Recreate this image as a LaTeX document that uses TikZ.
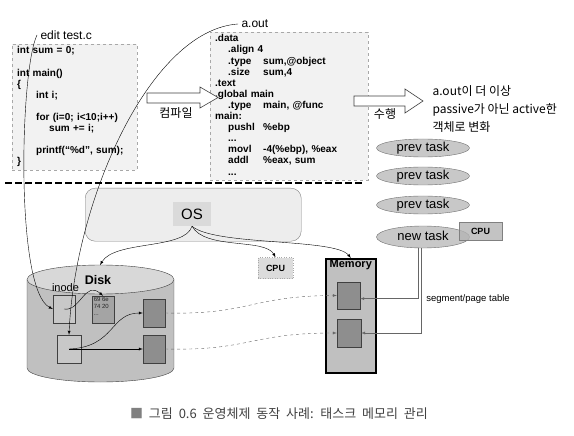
\documentclass[tikz,border=0pt]{standalone}
\usepackage{fontspec}
\setmainfont{Liberation Sans}
\newfontfamily\kr{Noto Sans CJK KR}
\usepackage{xcolor}
\usetikzlibrary{shapes,arrows,positioning,calc}

\definecolor{boxfill}{HTML}{F2F2F2}
\definecolor{boxline}{HTML}{A8A8A8}
\definecolor{osfill}{HTML}{EDEDED}
\definecolor{osnodefill}{HTML}{DADADA}
\definecolor{taskfill}{HTML}{C8C8C8}
\definecolor{taskline}{HTML}{707070}
\definecolor{cpufill}{HTML}{B4B4B4}
\definecolor{cpumid}{HTML}{DCDCDC}
\definecolor{diskbody}{HTML}{C0C0C0}
\definecolor{disktopc}{HTML}{D8D8D8}
\definecolor{inodefill}{HTML}{C8C8C8}
\definecolor{datafill}{HTML}{A4A4A4}
\definecolor{blockfill}{HTML}{8E8E8E}
\definecolor{memfill}{HTML}{C0C0C0}
\definecolor{darkline}{HTML}{404040}
\definecolor{captext}{HTML}{404040}

\newcommand{\asmln}[2]{\hspace*{13pt}\makebox[35pt][l]{#1}#2}

\begin{document}
\begin{tikzpicture}[x=1pt, y=-1pt, >=latex,
  codebox/.style={draw=boxline, dashed, fill=boxfill, anchor=north west, inner xsep=5pt, inner ysep=0pt, align=left, font=\fontsize{10}{11.1}\selectfont\bfseries},
  lbl/.style={font=\fontsize{12}{12}\selectfont},
  krlbl/.style={font=\kr\fontsize{12}{12}\selectfont},
  blockarr/.style={draw=darkline, fill=white, line width=0.6pt},
  task/.style={ellipse, draw=taskline, fill=taskfill, minimum width=93pt, minimum height=18pt, inner sep=0pt, text height=9pt, text depth=2.5pt, font=\fontsize{13}{13}\selectfont},
  cpubox/.style={draw=gray, fill=cpufill, inner sep=0pt, font=\fontsize{9}{9}\selectfont\bfseries},
  smallbox/.style={draw=darkline, minimum width=22pt, minimum height=28pt, inner sep=0pt},
  memline/.style={draw=darkline!80, ->}]
\useasboundingbox (0,0) rectangle (574,436);

% Source code
\node[codebox, text width=115pt, minimum height=126pt] (src) at (12,44) {%
  \begin{tabular}{@{}l@{}}
  int sum = 0;\\
  \\
  int main()\\
  \{\\
  \hspace*{19pt}int i;\\
  \\
  \hspace*{19pt}for (i=0; i<10;i++)\\
  \hspace*{32pt}sum += i;\\
  \\
  \hspace*{19pt}printf(“\%d”, sum);\\
  \}
  \end{tabular}};
\node[lbl, anchor=west] (editlbl) at (37,35) {edit test.c};

% Assembly
\node[codebox, text width=148pt, minimum height=148pt] (asm) at (210,32) {%
  \begin{tabular}{@{}l@{}}
  .data\\
  \hspace*{13pt}.align 4\\
  \asmln{.type}{sum,@object}\\
  \asmln{.size}{sum,4}\\
  .text\\
  .global main\\
  \asmln{.type}{main, @func}\\
  main:\\
  \asmln{pushl}{\%ebp}\\
  \hspace*{13pt}...\\
  \asmln{movl}{-4(\%ebp), \%eax}\\
  \asmln{addl}{\%eax, sum}\\
  \hspace*{13pt}...
  \end{tabular}};
\node[lbl, anchor=west] (aoutlbl) at (238,24) {a.out};

% Compile / run arrows
\draw[blockarr] (147,93) -- (200,93) -- (200,87) -- (218,97.5) -- (200,108) -- (200,103) -- (147,103) -- cycle;
\node[krlbl] (cmplbl) at (176,113) {컴파일};
\draw[blockarr] (354,96) -- (405,96) -- (405,89) -- (423,101) -- (405,113) -- (405,106) -- (354,106) -- cycle;
\node[krlbl] (runlbl) at (385,114) {수행};
\node[krlbl, anchor=north west, align=left, font=\kr\fontsize{12}{18}\selectfont] (note) at (429,82)
  {a.out이 더 이상\\passive가 아닌 active한\\객체로 변화};

% Tasks
\foreach \y [count=\i] in {148,176,205}
  \node[task] (prev\i) at (423,\y) {prev task};
\node[task, minimum height=22pt] (newtask) at (423,237) {new task};
\node[cpubox, fill opacity=0.8, text opacity=1, minimum width=43pt, minimum height=18pt] (cpu2) at (480.5,231.5) {CPU};

% Separator
\draw[line width=2.6pt, dash pattern=on 7pt off 3pt] (5,183) -- (365,183);

% OS
\node[draw=gray, fill=osfill, rounded corners=10pt, anchor=north west, minimum width=216pt, minimum height=53pt] (osbox) at (85,188) {};
\node[fill=osnodefill, minimum width=38pt, minimum height=24pt, inner sep=0pt, font=\fontsize{15}{15}\selectfont] (os) at (192,214) {OS};
\node[cpubox, draw=boxline, dotted, fill=cpumid, minimum width=35pt, minimum height=21pt] (cpu) at (275.5,268) {CPU};

% Disk
\fill[diskbody] (27,279.5) rectangle (174,368);
\fill[diskbody] (100.5,368) ellipse [x radius=73.5, y radius=14];
\draw[darkline] (27,279.5) -- (27,368) arc[start angle=180, end angle=0, x radius=73.5, y radius=14] -- (174,279.5);
\draw[darkline, fill=disktopc] (100.5,279.5) ellipse [x radius=73.5, y radius=14.5];
\coordinate (disktop) at (100,265);
\node[font=\fontsize{12.5}{12.5}\selectfont\bfseries] (disklbl) at (98,280) {Disk};
\node[font=\fontsize{11}{11}\selectfont, inner sep=0pt] (inodelbl) at (65.5,288) {inode};
\node[smallbox, fill=inodefill] (in1) at (64,309) {};
\node[smallbox, fill=inodefill, minimum width=24pt] (in2) at (69,349) {};
\node[smallbox, fill=datafill, minimum height=27pt] (data) at (103,309.5) {};
\node[anchor=north west, align=left, inner sep=1.8pt, font=\fontsize{6}{7}\selectfont, text=black!85] (datatxt) at (data.north west) {69 6e\\74 20\\...};
\node[smallbox, fill=blockfill] (blk1) at (154,313) {};
\node[smallbox, fill=blockfill] (blk2) at (154,349) {};

% Memory
\node[draw=black, line width=1.6pt, fill=memfill, anchor=north west, minimum width=50pt, minimum height=114pt] (mem) at (325,258) {};
\node[anchor=north, inner sep=1.5pt, font=\fontsize{11}{11}\selectfont\bfseries] (memlbl) at (mem.north) {Memory};
\node[smallbox, fill=blockfill, minimum width=23pt, minimum height=27pt] (mb1) at (348.5,295.5) {};
\node[smallbox, fill=blockfill, minimum width=24pt] (mb2) at (349,333) {};
\node[font=\fontsize{9.5}{9.5}\selectfont] (pglbl) at (468,299) {segment/page table};

% Connectors
\draw[->] (editlbl.west) .. controls (20,70) and (15,290) .. (in1.west);
\draw[->] (aoutlbl.west) .. controls (150,30) and (75,200) .. (in2.north);
\draw[->] (os.south) .. controls (185,250) and (115,240) .. (disktop);
\draw[->] (os.south) .. controls (205,250) and (265,238) .. (cpu.north);
\draw[->] (os.south) .. controls (215,246) and (335,238) .. (mem.north);
\draw[->] (in1.center) .. controls (80,312) and (85,280) .. (data.north);
\draw[->] (in2.center) .. controls (115,347) and (110,313) .. (blk1.west);
\draw[->] (in2.center) -- (blk2.west);
\draw[->, dashed, darkline!80] (blk1.east) .. controls (250,315) and (250,296) .. (mb1.west);
\draw[->, dashed, darkline!80] (blk2.east) .. controls (250,351) and (250,333) .. (mb2.west);
\draw[memline] ($(newtask.south)+(-5,0)$) |- (mb1.-15);
\draw[memline] ($(newtask.south)+(-1.5,0)$) |- (mb2.east);

% Caption
\node[font=\kr\fontsize{13}{13}\selectfont, text=captext] (cap) at (279,414) {\spaceskip=0.45em\relax\textcolor{gray}{■} 그림 0.6 운영체제 동작 사례: 태스크 메모리 관리};
\end{tikzpicture}
\end{document}
